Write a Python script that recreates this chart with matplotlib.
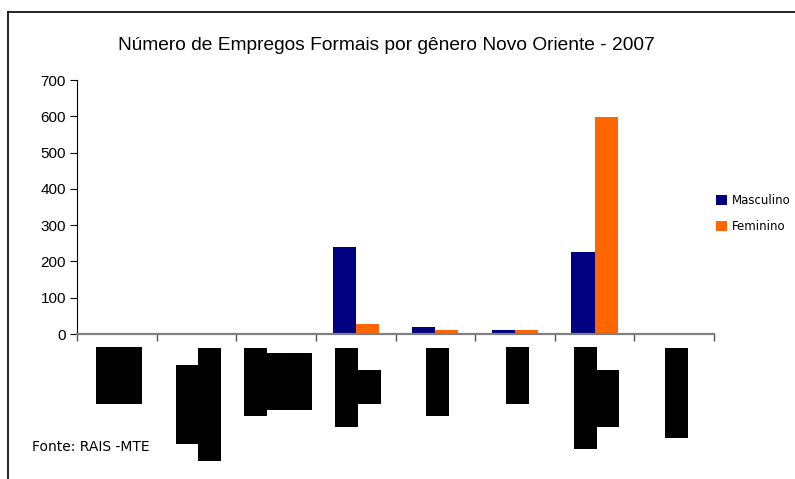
import matplotlib
matplotlib.use("Agg")
import matplotlib.pyplot as plt
import numpy as np
from matplotlib.lines import Line2D
from matplotlib.transforms import ScaledTranslation

# Data
category_labels = [
    "█████\n█████",
    "███████\n██████████",
    "██████\n█████\n█████",
    "███████\n███",
    "██████",
    "█████",
    "█████████\n█████",
    "████████",
]
masculino = [0, 0, 0, 240, 18, 10, 225, 0]
feminino = [0, 0, 0, 27, 10, 10, 597, 0]
y_ticks = [0, 100, 200, 300, 400, 500, 600, 700]
title = "Número de Empregos Formais por gênero Novo Oriente - 2007"
source = "Fonte: RAIS -MTE"

fig = plt.figure(figsize=(7.95, 4.79), dpi=100)
ax = fig.add_axes([77/795, 1-334/479, (714-77)/795, (334-80)/479])

x = np.arange(len(category_labels))
w = 0.29
ax.bar(x - w/2, masculino, w, color="#000080", label="Masculino")
ax.bar(x + w/2, feminino, w, color="#FF6600", label="Feminino")

ax.set_xlim(-0.5, len(category_labels) - 0.5)
ax.set_ylim(0, 700)
ax.set_yticks(y_ticks)
ax.set_yticklabels([str(v) for v in y_ticks], fontsize=11, family="Liberation Sans")
ax.tick_params(axis="y", length=5, width=0.8, pad=3)

ax.set_xticks(np.arange(len(category_labels) + 1) - 0.5, minor=False)
ax.set_xticklabels([""] * (len(category_labels) + 1))
ax.tick_params(axis="x", length=5, width=1, color="#555555")
ax.set_xticks(x, minor=True)
ax.set_xticklabels(category_labels, minor=True, rotation=90, fontsize=13.5,
                   family="DejaVu Sans Mono", color="black", linespacing=1.0,
                   multialignment="center", va="top", ha="center",
                   antialiased=False)
ax.tick_params(axis="x", which="minor", length=0, pad=9.4)
shift = ScaledTranslation(0.025, 0, fig.dpi_scale_trans)
for lab in ax.get_xticklabels(minor=True):
    lab.set_transform(lab.get_transform() + shift)

for s in ["top", "right"]:
    ax.spines[s].set_visible(False)
ax.spines["bottom"].set_color("#808080")
ax.spines["bottom"].set_linewidth(1.6)
ax.spines["left"].set_color("black")
ax.spines["left"].set_linewidth(0.8)

fig.text(386/795, 1-46/479, title, ha="center", va="center", fontsize=13.8,
         family="Liberation Sans")
fig.text(32/795, 1-447/479, source, ha="left", va="center", fontsize=10,
         family="DejaVu Sans")

leg = fig.legend(loc="upper left", bbox_to_anchor=(710/795, 1-188/479), frameon=False,
                 prop={"family": "DejaVu Sans", "size": 8.5}, handlelength=0.9,
                 handleheight=0.9, handletextpad=0.45, labelspacing=1.1, borderpad=0)

# outer chart frame (left and top edges visible)
fig.add_artist(Line2D([8/795, 8/795], [0, 1-12/479], transform=fig.transFigure,
                      color="black", linewidth=1.2))
fig.add_artist(Line2D([8/795, 1], [1-12/479, 1-12/479], transform=fig.transFigure,
                      color="black", linewidth=1.2))

fig.savefig("out.png", dpi=100)
